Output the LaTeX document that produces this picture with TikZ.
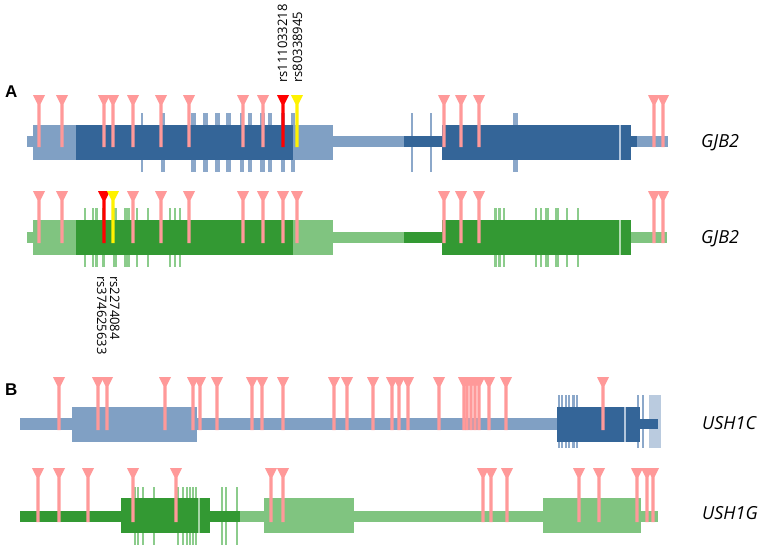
\documentclass[tikz,border=0pt]{standalone}
\usepackage{fontspec}
\setmainfont{Open Sans}
\newfontfamily\boldlab{Liberation Sans}
\definecolor{dblue}{RGB}{52,101,152}
\definecolor{lblue}{RGB}{128,160,196}
\definecolor{tblue}{RGB}{140,168,202}
\definecolor{dgreen}{RGB}{51,153,51}
\definecolor{lgreen}{RGB}{128,196,128}
\definecolor{tgreen}{RGB}{140,204,140}
\definecolor{pinpink}{RGB}{255,153,153}
\newcommand\mypin[4]{%
  \fill[#4] (#1-6,#2) -- (#1+6,#2) -- (#1+1.6,#2+9) -- (#1+1.6,#3) -- (#1-1.6,#3) -- (#1-1.6,#2+9) -- cycle;}
\newcommand\mytick[5]{%
  \fill[#5] (#1-#2/2,#3) rectangle (#1+#2/2,#4);}
\tikzset{
  genelab/.style={font=\fontsize{18}{20}\selectfont\itshape, anchor=base west, inner sep=0pt},
  panellab/.style={font=\boldlab\fontsize{17}{19}\selectfont\bfseries, anchor=base west, inner sep=0pt},
  rslab/.style={font=\fontsize{13}{15}\selectfont, anchor=base west, inner sep=0pt}
}
\begin{document}
\begin{tikzpicture}[x=1pt,y=-1pt]
\path[use as bounding box, fill=white] (0,0) rectangle (765,549);

% ---------- Panel A, row 1 (blue GJB2) ----------
\foreach \x/\w in {142/2,163/4,193/5,205/5,217/5,228/5,242/4,250/4,262/5,270/4,283/4,293/4,412/2,431/2,515/5}
  {\mytick{\x}{\w}{113}{172}{tblue}}
\fill[lblue] (27,136) rectangle (33,147);
\fill[lblue] (33,125) rectangle (333,160);
\fill[dblue] (76,125) rectangle (293,160);
\fill[lblue] (333,136) rectangle (404,147);
\fill[dblue] (404,136) rectangle (442,147);
\fill[dblue] (442,125) rectangle (631,160);
\fill[lblue!60] (619.3,125) rectangle (620.7,160);
\fill[dblue] (631,136) rectangle (637,147);
\fill[lblue] (637,136) rectangle (668,147);
\foreach \x in {39,62,104,113,133,161,189,243,263,444,461,479,654,663}
  {\mypin{\x}{95}{147}{pinpink}}
\mypin{283}{95}{147}{red}
\mypin{297}{95}{147}{yellow}
\node[rslab, rotate=90] (rsa) at (287,83) {rs111033218};
\node[rslab, rotate=90] (rsb) at (302,83) {rs80338945};
\node[panellab] (labA) at (5,97) {A};
\node[genelab] (g1) at (701,147) {GJB2};

% ---------- Panel A, row 2 (green GJB2) ----------
\foreach \x/\w in {85/2,93/2,96/3,103/3,115/4,125/3,128/3,137/2,148/2,170/2,175/2,180/2,495/3,499/3,504/2,536/2,541/2,547/4,557/4,567/2,578/2}
  {\mytick{\x}{\w}{208}{267}{tgreen}}
\fill[lgreen] (27,232) rectangle (33,243);
\fill[lgreen] (33,220) rectangle (333,255);
\fill[dgreen] (76,220) rectangle (293,255);
\fill[lgreen] (333,232) rectangle (404,243);
\fill[dgreen] (404,232) rectangle (442,243);
\fill[dgreen] (442,220) rectangle (631,255);
\fill[lgreen!60] (619.3,220) rectangle (620.7,255);
\fill[lgreen] (631,232) rectangle (667,243);
\foreach \x in {39,62,133,161,189,243,263,283,297,444,461,479,654,663}
  {\mypin{\x}{191}{243}{pinpink}}
\mypin{104}{191}{243}{red}
\mypin{113}{191}{243}{yellow}
\node[rslab, rotate=-90] (rsc) at (110,276) {rs2274084};
\node[rslab, rotate=-90] (rsd) at (97,276) {rs374625633};
\node[genelab] (g2) at (701,243) {GJB2};

% ---------- Panel B, row 1 (blue USH1C) ----------
\foreach \x/\w in {559/2,562/2,566/2,569/2,573/3,577/2,638/2,643/2}
  {\mytick{\x}{\w}{395}{448}{tblue}}
\fill[tblue!60] (649,395) rectangle (661,448);
\fill[lblue] (20,418) rectangle (557,430);
\fill[lblue] (72,407) rectangle (197,442);
\fill[dblue] (557,407) rectangle (640,442);
\fill[lblue!60] (624.3,407) rectangle (625.7,442);
\fill[dblue] (640,419) rectangle (658,429);
\foreach \x in {59,98,107,165,193,200,217,252,262,283,334,347,373,392,399,408,439,464,467,471,475,479,489,506,603}
  {\mypin{\x}{377}{430}{pinpink}}
\node[panellab] (labB) at (5,395) {B};
\node[genelab] (g3) at (702,429) {USH1C};

% ---------- Panel B, row 2 (green USH1G) ----------
\foreach \x/\w in {135/2,138/2,143/2,154/2,178/2,183/2,187/2,190/2,193/2,196/2,222/2,226/2,237/2}
  {\mytick{\x}{\w}{487}{545}{tgreen}}
\fill[dgreen] (20,511) rectangle (240,522);
\fill[lgreen] (240,511) rectangle (658,522);
\fill[dgreen] (121,498) rectangle (210,533);
\fill[lgreen!70] (198.4,498) rectangle (199.6,533);
\fill[lgreen] (264,498) rectangle (354,533);
\fill[lgreen] (543,498) rectangle (641,533);
\foreach \x in {38,59,88,133,176,271,283,483,491,507,579,599,637,647,653}
  {\mypin{\x}{468}{522}{pinpink}}
\node[genelab] (g4) at (702,519) {USH1G};
\end{tikzpicture}
\end{document}
